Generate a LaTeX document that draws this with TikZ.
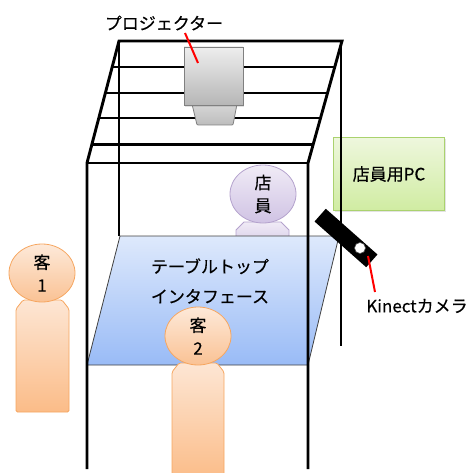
\documentclass[tikz,border=0pt]{standalone}
\usepackage{fontspec}
\newfontfamily\jp[FakeBold=0.4]{Noto Sans CJK JP}
\usetikzlibrary{shapes.geometric,calc,shadows}
\definecolor{orangeline}{RGB}{246,166,96}
\definecolor{orangetop}{RGB}{253,233,217}
\definecolor{orangebot}{RGB}{250,194,148}
\definecolor{bodytop}{RGB}{253,230,212}
\definecolor{bodybot}{RGB}{251,188,136}
\definecolor{purpleline}{RGB}{180,162,205}
\definecolor{purpletop}{RGB}{240,235,246}
\definecolor{purplebot}{RGB}{208,195,228}
\definecolor{tabletop}{RGB}{222,233,252}
\definecolor{tablebot}{RGB}{153,187,246}
\definecolor{pcline}{RGB}{170,210,110}
\definecolor{pctop}{RGB}{238,247,221}
\definecolor{pcbot}{RGB}{208,236,162}
\definecolor{projline}{RGB}{128,128,128}
\definecolor{projtop}{RGB}{238,238,238}
\definecolor{projbot}{RGB}{182,182,182}
\begin{document}
\begin{tikzpicture}[x=1pt,y=-1pt,
  txt/.style={font=\jp\fontsize{17}{23}\selectfont, text=black, align=center, inner sep=0pt},
  pole/.style={line width=2.9pt, line join=miter},
  rail/.style={line width=2.9pt},
  softshadow/.style={drop shadow={shadow xshift=1.2pt, shadow yshift=-1.8pt, opacity=0.22}},
  head/.style={ellipse, draw=orangeline, line width=0.8pt, top color=orangetop, bottom color=orangebot,
               minimum width=66pt, minimum height=58pt, inner sep=0pt, txt},
  body/.style={draw=orangeline, line width=0.8pt, top color=bodytop, bottom color=bodybot, rounded corners=1.5pt},
  staffhead/.style={ellipse, draw=purpleline, line width=0.8pt, top color=purpletop, bottom color=purplebot,
               minimum width=66pt, minimum height=58pt, inner sep=0pt, txt},
  staffbody/.style={draw=purpleline, line width=0.8pt, top color=purpletop, bottom color=purplebot},
  tablesurf/.style={draw=black!75, line width=0.8pt, top color=tabletop, bottom color=tablebot},
  pcbox/.style={rectangle, draw=pcline, line width=0.8pt, top color=pctop, bottom color=pcbot,
               minimum width=111pt, minimum height=73pt, txt, softshadow},
  projbox/.style={rectangle, draw=projline, line width=0.8pt, top color=projtop, bottom color=projbot,
               minimum width=59pt, minimum height=58pt, inner sep=0pt, softshadow},
  projlens/.style={draw=projline, line width=0.8pt, top color=black!16, bottom color=black!26, rounded corners=1pt},
  callout/.style={draw=red, line width=2pt}
]
\useasboundingbox (0,0) rectangle (470,473);
\clip (0,0) rectangle (470,473);

% frame corners
\coordinate (TL) at (119,41);
\coordinate (TR) at (342,41);
\coordinate (FL) at (87,163);
\coordinate (FR) at (308,163);
\coordinate (FLb) at (87,469);
\coordinate (FRb) at (308,469);

% staff PC
\node[pcbox] (pc) at (389,174) {店員用PC};

% back poles
\draw[pole] (TL) -- (119,236);
\draw[pole] (341,41) -- (341,346);

% rails between the two sloping sides of the top
\foreach \t in {0.213,0.426,0.631,0.852,1}
  \draw[rail] ($(TL)!\t!(FL)$) -- ($(TR)!\t!(FR)$);

% staff member behind the table
\path[staffbody] (236,252) -- (236,230) -- (244,222) -- (281,222) -- (289,230) -- (289,252) -- cycle;
\node[staffhead] (staff) at (263,194) {店\\員};

% table top
\coordinate (TTL) at (120,236);
\coordinate (TTR) at (339,236);
\coordinate (TBR) at (308,365);
\coordinate (TBL) at (87,365);
\path[tablesurf] (TTL) -- (TTR) -- (TBR) -- (TBL) -- cycle;
\node[txt] (tabletext) at (210,281) {テーブルトップ\\[7pt]インタフェース};

% front poles and top frame
\draw[pole] (FLb) -- (FL) -- (TL) -- (TR) -- (FR) -- (FRb);

% projector
\path[projlens] (192,104) -- (237,104) -- (233,125) -- (197,125) -- cycle;
\node[projbox] (proj) at (213.5,76) {};

% customers
\path[body] (172,480) -- (172,372) -- (179,363) -- (217,363) -- (224,372) -- (224,480) -- cycle;
\node[head] (cust2) at (198,336) {客\\2};
\path[body] (16,412) -- (16,309) -- (23,300) -- (62,300) -- (69,309) -- (69,412) -- cycle;
\node[head] (cust1) at (42,273) {客\\1};

% Kinect sensor
\node[fill=black, rotate=-41.5, minimum width=69pt, minimum height=17pt, inner sep=0pt] (kinect) at (346,238) {};
\node[circle, fill=white, draw=black!70, line width=0.6pt, minimum size=11pt, inner sep=0pt] (kinectlens) at (360,248) {};

% labels with callouts
\node[txt] (projlabel) at (164,23) {プロジェクター};
\coordinate (projtail) at (185,33);
\coordinate (projtip) at (198,63);
\draw[callout] (projtail) -- (projtip);

\node[txt] (kinectlabel) at (417,306) {Kinectカメラ};
\coordinate (kinecttail) at (375,292);
\coordinate (kinecttip) at (368,256);
\draw[callout] (kinecttail) -- (kinecttip);
\end{tikzpicture}
\end{document}
